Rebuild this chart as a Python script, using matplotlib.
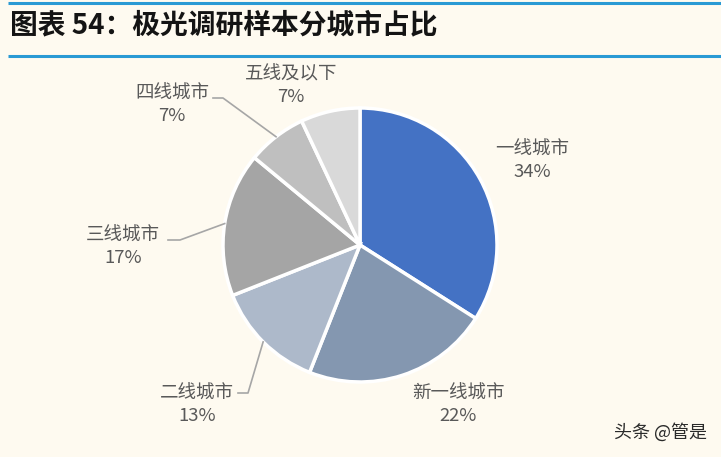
import numpy as np
import matplotlib
matplotlib.use("Agg")
import matplotlib.pyplot as plt

plt.rcParams['font.family'] = ['Noto Sans CJK SC', 'DejaVu Sans']

# data
labels = ["一线城市", "新一线城市", "二线城市", "三线城市", "四线城市", "五线及以下"]
shares = [34, 22, 13, 17, 7, 7]
colors = ["#4472C4", "#8497B0", "#ADB9CA", "#A5A5A5", "#BFBFBF", "#D9D9D9"]

W, H = 721, 457
bg = "#FEFAF0"
fig = plt.figure(figsize=(W / 100, H / 100), dpi=100, facecolor=bg)
ax = fig.add_axes([0, 0, 1, 1])
ax.set_xlim(0, W)
ax.set_ylim(0, H)
ax.axis("off")
ax.set_facecolor(bg)

# title + blue rules
ax.plot([8, W], [H - 3, H - 3], color="#2A9AD4", lw=2.2, solid_capstyle="butt")
ax.plot([8, W], [H - 56, H - 56], color="#2A9AD4", lw=2.2, solid_capstyle="butt")
ax.text(10, H - 25, "图表 54：极光调研样本分城市占比", fontsize=20, fontweight="bold",
        color="#141414", ha="left", va="center")

# pie (pixel coordinates, y flipped)
cx, cy, r = 360, H - 245, 137
wedges, _ = ax.pie(shares, colors=colors, startangle=90, counterclock=False,
                   center=(cx, cy), radius=r,
                   wedgeprops=dict(edgecolor="white", linewidth=2.5))
ax.set_xlim(0, W)
ax.set_ylim(0, H)
ax.set_aspect("auto")

# label block centres (pixel, top-left origin) and leader elbows
label_pos = [(532, 161), (458, 405), (197, 405), (123, 247), (172, 105), (291, 86)]
leaders = {2: [(238, 393), (248, 393)],
           3: [(168, 240), (180, 240)],
           4: [(213, 98), (223, 98)]}

txt_col = "#595959"
for i, (w, lab, s) in enumerate(zip(wedges, labels, shares)):
    lx, ly = label_pos[i]
    ax.text(lx, H - ly, f"{lab}\n{s}%", fontsize=13.3, color=txt_col,
            ha="center", va="center", linespacing=1.3)
    if i in leaders:
        mid = np.deg2rad((w.theta1 + w.theta2) / 2)
        ex, ey = cx + r * np.cos(mid), cy + r * np.sin(mid)
        pts = leaders[i]
        xs = [p[0] for p in pts] + [ex]
        ys = [H - p[1] for p in pts] + [ey]
        ax.plot(xs, ys, color="#A6A6A6", lw=1.2)

# watermark
ax.text(660, H - 432, "头条 @管是", fontsize=13, color="#2a2a2a", ha="center", va="center")

fig.savefig("out.png", dpi=100, facecolor=bg)
